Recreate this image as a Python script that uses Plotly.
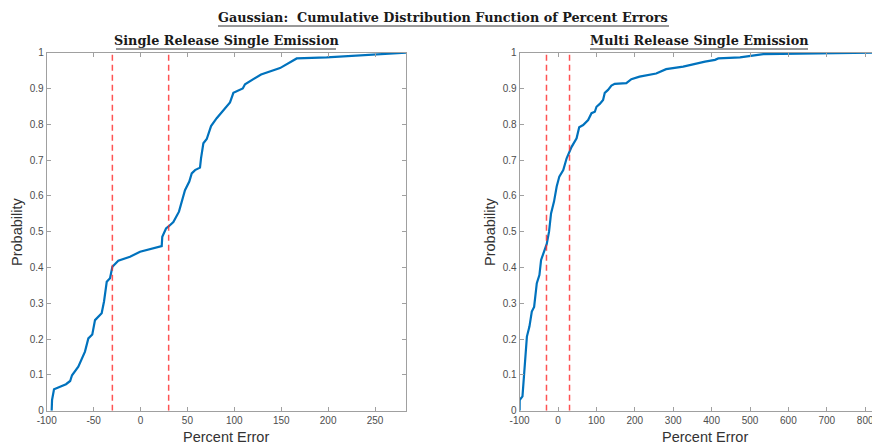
import plotly.graph_objects as go

W, H = 872, 445

# ---- data ----
single_x = [-94.7, -94.3, -92.2, -79.4, -75.0, -73.0, -66.3, -59.2, -55.6, -51.4, -48.5, -41.4,
            -38.9, -36.0, -32.5, -30.0, -23.7, -11.2, -0.5, 6.6, 22.6, 23.2, 27.2, 29.6, 35.0,
            41.0, 47.4, 52.0, 54.6, 58.1, 63.4, 64.5, 67.0, 70.6, 75.2, 81.2, 89.0, 95.4, 99.0,
            109.0, 111.4, 128.5, 148.7, 166.5, 198.5, 248.2, 283.0]
single_y = [0.0, 0.03, 0.06, 0.074, 0.083, 0.099, 0.123, 0.165, 0.202, 0.213, 0.253, 0.272,
            0.305, 0.36, 0.37, 0.402, 0.419, 0.43, 0.444, 0.449, 0.46, 0.486, 0.509, 0.514, 0.527,
            0.556, 0.616, 0.64, 0.663, 0.672, 0.679, 0.705, 0.747, 0.759, 0.795, 0.817, 0.843, 0.861, 0.888,
            0.9, 0.912, 0.939, 0.957, 0.984, 0.987, 0.994, 1.0]

multi_x = [-100.0, -99.8, -92.5, -85.5, -81.0, -74.4, -68.2, -62.2, -55.2, -48.4, -44.0, -29.3,
           -23.3, -18.1, -10.4, -3.4, 3.4, 13.7, 22.5, 35.5, 48.4, 55.2, 65.5, 78.5, 87.3, 95.9,
           100.3, 108.8, 117.4, 121.8, 130.3, 139.1, 147.7, 178.0, 191.0, 212.4, 255.7, 281.6,
           296.0, 326.0, 382.8, 408.9, 417.4, 474.0, 534.6, 630.0, 817.7]
multi_y = [0.0, 0.03, 0.04, 0.14, 0.207, 0.235, 0.277, 0.29, 0.356, 0.379, 0.421, 0.466,
           0.5, 0.551, 0.584, 0.626, 0.654, 0.672, 0.705, 0.737, 0.761, 0.792, 0.798, 0.812, 0.831, 0.835,
           0.849, 0.857, 0.868, 0.888, 0.896, 0.908, 0.913, 0.915, 0.926, 0.933, 0.942, 0.954,
           0.956, 0.961, 0.975, 0.98, 0.984, 0.987, 0.996, 0.998, 1.0]

thresholds = [-30, 30]

left_xticks = [-100, -50, 0, 50, 100, 150, 200, 250]
left_xticklabels = ["-100", "-50", "0", "50", "100", "150", "200", "250"]
right_xticks = [-100, 0, 100, 200, 300, 400, 500, 600, 700, 800]
right_xticklabels = ["-100", "0", "100", "200", "300", "400", "500", "600", "700", "800"]
y_ticks = [0, 0.1, 0.2, 0.3, 0.4, 0.5, 0.6, 0.7, 0.8, 0.9, 1]
y_ticklabels = ["0", "0.1", "0.2", "0.3", "0.4", "0.5", "0.6", "0.7", "0.8", "0.9", "1"]

main_title = "Gaussian:  Cumulative Distribution Function of Percent Errors"
sub_titles = ["Single Release Single Emission", "Multi Release Single Emission"]

# ---- layout geometry (pixels) ----
L_x0, L_x1 = 46.7, 406.0
R_x0, R_x1 = 519.6, 872.0
P_top, P_bot = 52.7, 410.7

BLUE = "#0072BD"
RED = "rgba(255,40,40,0.8)"
AX = "#a0a0a0"
TXT = "#4d4d4d"

fig = go.Figure()

fig.add_trace(go.Scatter(x=single_x, y=single_y, mode="lines",
                         line=dict(color=BLUE, width=2.2), xaxis="x", yaxis="y",
                         showlegend=False, hoverinfo="skip"))
fig.add_trace(go.Scatter(x=multi_x, y=multi_y, mode="lines",
                         line=dict(color=BLUE, width=2.2), xaxis="x2", yaxis="y2",
                         showlegend=False, hoverinfo="skip"))
for xa, ya in (("x", "y"), ("x2", "y2")):
    for t in thresholds:
        fig.add_trace(go.Scatter(x=[t, t], y=[0, 1], mode="lines",
                                 line=dict(color=RED, width=1.5, dash="6px,4px"),
                                 xaxis=xa, yaxis=ya, showlegend=False, hoverinfo="skip"))

ydom = [(H - P_bot) / H, (H - P_top) / H]
tickfont = dict(family="Liberation Sans, Arial, sans-serif", size=10, color=TXT)

common_axis = dict(showgrid=False, zeroline=False, showline=True, linecolor=AX, linewidth=1,
                   ticks="inside", ticklen=4, tickcolor=AX, tickfont=tickfont, automargin=False,
                   ticklabeloverflow="allow")

fig.update_layout(
    width=W, height=H,
    margin=dict(l=0, r=0, t=0, b=0),
    paper_bgcolor="white", plot_bgcolor="white",
    xaxis=dict(domain=[L_x0 / W, L_x1 / W], range=[-100, 283], tickvals=left_xticks,
               ticktext=left_xticklabels, anchor="y", mirror="ticks", **common_axis),
    yaxis=dict(domain=ydom, range=[0, 1], tickvals=y_ticks, ticktext=y_ticklabels,
               anchor="x", mirror="ticks", **common_axis),
    xaxis2=dict(domain=[R_x0 / W, R_x1 / W], range=[-100, 817.7], tickvals=right_xticks,
                ticktext=right_xticklabels, anchor="y2", mirror="ticks", **common_axis),
    yaxis2=dict(domain=ydom, range=[0, 1], tickvals=y_ticks, ticktext=y_ticklabels,
                anchor="x2", mirror=False, **common_axis),
)

serif = "DejaVu Serif, Liberation Serif, serif"
ann = []
ann.append(dict(text="<b>" + main_title + "</b>", x=443 / W, y=1 - 17 / H, xref="paper", yref="paper",
                showarrow=False, font=dict(family=serif, size=12.8, color="#1a1a1a"),
                xanchor="center", yanchor="middle"))
ann.append(dict(text="<b>" + sub_titles[0] + "</b>", x=226 / W, y=1 - 40 / H, xref="paper", yref="paper",
                showarrow=False, font=dict(family=serif, size=12.8, color="#1a1a1a"),
                xanchor="center", yanchor="middle"))
ann.append(dict(text="<b>" + sub_titles[1] + "</b>", x=699 / W, y=1 - 40 / H, xref="paper", yref="paper",
                showarrow=False, font=dict(family=serif, size=12.8, color="#1a1a1a"),
                xanchor="center", yanchor="middle"))
labfont = dict(family="Liberation Sans, Arial, sans-serif", size=14.5, color="#333333")
ann.append(dict(text="Percent Error", x=226 / W, y=1 - 437 / H, xref="paper", yref="paper",
                showarrow=False, font=labfont, xanchor="center", yanchor="middle"))
ann.append(dict(text="Percent Error", x=705 / W, y=1 - 437 / H, xref="paper", yref="paper",
                showarrow=False, font=labfont, xanchor="center", yanchor="middle"))
ann.append(dict(text="Probability", x=17 / W, y=1 - 232 / H, xref="paper", yref="paper",
                showarrow=False, font=labfont, textangle=-90, xanchor="center", yanchor="middle"))
ann.append(dict(text="Probability", x=490 / W, y=1 - 232 / H, xref="paper", yref="paper",
                showarrow=False, font=labfont, textangle=-90, xanchor="center", yanchor="middle"))
fig.update_layout(annotations=ann)

# underlines under titles
shapes = []
for (x0, x1, yy) in ((218, 669, 26), (116, 336, 49), (590, 808, 49)):
    shapes.append(dict(type="line", xref="paper", yref="paper", x0=x0 / W, x1=x1 / W,
                       y0=1 - yy / H, y1=1 - yy / H, line=dict(color="#333333", width=1)))
fig.update_layout(shapes=shapes)

fig.write_html("out.html")
